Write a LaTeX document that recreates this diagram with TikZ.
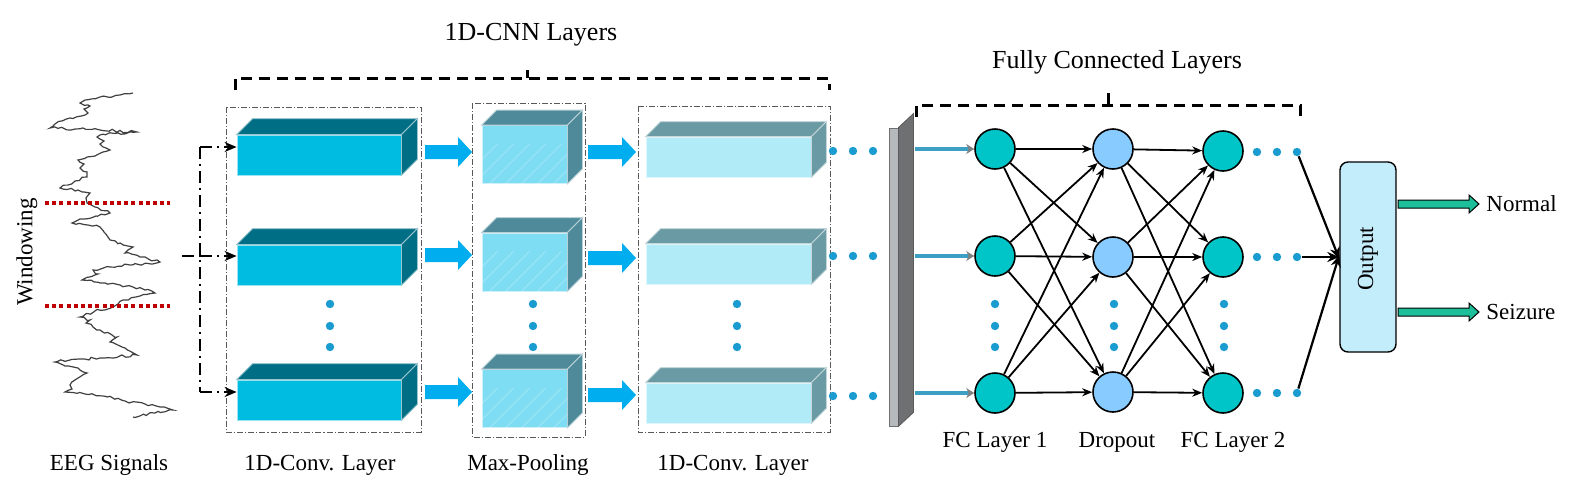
\documentclass[tikz,border=0pt]{standalone}
\usepackage{fontspec}
\setmainfont{Liberation Serif}
\usetikzlibrary{arrows.meta,decorations.pathmorphing}
\definecolor{convfront}{HTML}{00BCE0}
\definecolor{convdark}{HTML}{006F85}
\definecolor{poolfront}{HTML}{7FDDF3}
\definecolor{pooldark}{HTML}{4E8A99}
\definecolor{conv2front}{HTML}{B0EBF7}
\definecolor{conv2dark}{HTML}{6A9AA3}
\definecolor{arrowblue}{HTML}{00AEEF}
\definecolor{dotblue}{HTML}{1A9CD0}
\definecolor{fcteal}{HTML}{00C5C8}
\definecolor{droplight}{HTML}{88CCFF}
\definecolor{outbox}{HTML}{C4EDFC}
\definecolor{greenarrow}{HTML}{1DBE9A}
\definecolor{barlight}{HTML}{B5B9BC}
\definecolor{bardark}{HTML}{6E7072}
\definecolor{linkblue}{HTML}{3E9FC4}
\definecolor{redwin}{HTML}{C00000}
\newcommand\cubebox[6]{%
  \node[#4] (#1) at (#2,#3) {};
  \filldraw[fill=#5,draw=white!60!#5,line width=0.4pt] (#1.north west) -- ([shift={(#6,-#6)}]#1.north west) -- ([shift={(#6,-#6)}]#1.north east) -- (#1.north east) -- cycle;
  \filldraw[fill=#5,draw=white!60!#5,line width=0.4pt] (#1.north east) -- ([shift={(#6,-#6)}]#1.north east) -- ([shift={(#6,-#6)}]#1.south east) -- (#1.south east) -- cycle;
}
\newcommand\poolstripes[1]{%
  \begin{scope}
    \clip (#1.south west) rectangle (#1.north east);
    \foreach \s in {-60,-52,...,100}{\draw[white,opacity=0.18,line width=0.6pt] ([xshift=\s pt]#1.south west) -- ++(40,-40);}
  \end{scope}
}
\newcommand\blockarrow[3]{%
  \fill[arrowblue] (#1,#3-7) -- (#2-14,#3-7) -- (#2-14,#3-15) -- (#2,#3) -- (#2-14,#3+15) -- (#2-14,#3+7) -- (#1,#3+7) -- cycle;
}
\newcommand\greenarrow[3]{%
  \filldraw[fill=greenarrow,draw=black,line width=0.5pt] (#1,#3-4) -- (#2-10,#3-4) -- (#2-10,#3-9) -- (#2,#3) -- (#2-10,#3+9) -- (#2-10,#3+4) -- (#1,#3+4) -- cycle;
}
\begin{document}
\begin{tikzpicture}[x=0.5pt,y=-0.5pt,
  conv/.style={rectangle,inner sep=0,fill=convfront,draw=white!60!convfront,line width=0.4pt,minimum width=82pt,minimum height=20pt},
  pool/.style={rectangle,inner sep=0,fill=poolfront,draw=white!60!poolfront,line width=0.4pt,minimum width=42.5pt,minimum height=29pt},
  convb/.style={rectangle,inner sep=0,fill=conv2front,draw=white!60!conv2front,line width=0.4pt,minimum width=82.5pt,minimum height=20pt},
  frame/.style={draw=black!65,line width=0.5pt,dash pattern=on 3pt off 1pt on 0.6pt off 1pt},
  bracket/.style={draw=black,line width=1.5pt,dash pattern=on 5.5pt off 3.5pt},
  dd/.style={draw=black,line width=1.2pt,dash pattern=on 6pt off 2.5pt on 1pt off 2.5pt},
  dot/.style={circle,fill=dotblue,inner sep=0,minimum size=4.2pt},
  fc/.style={circle,draw=black,line width=0.8pt,fill=fcteal,minimum size=20pt,inner sep=0},
  drop/.style={circle,draw=black,line width=0.8pt,fill=droplight,minimum size=20pt,inner sep=0},
  edge/.style={draw=black,line width=0.9pt,-{Stealth[length=5pt,width=4pt]}},
  link/.style={draw=linkblue,line width=1.8pt,-{Stealth[length=4pt,width=5pt,color=gray]}},
  outarrow/.style={draw=black,line width=1.1pt,-{Stealth[length=6pt,width=5pt]}},
  lbl/.style={font=\fontsize{11.5}{13}\selectfont,inner sep=0},
  title/.style={font=\fontsize{13}{15}\selectfont,inner sep=0}]
\useasboundingbox (0,0) rectangle (1581,493);

% EEG signal
\pgfmathsetseed{7}
\draw[black!75,line width=0.6pt,decorate,decoration={random steps,segment length=2pt,amplitude=0.7pt}] plot coordinates {(133,93) (120,95) (100,97) (85,100) (80,103) (90,106) (84,109) (88,113) (70,118) (55,124) (50,128) (75,129) (100,130) (137,132) (118,133) (100,135) (97,137) (104,141) (100,144) (110,150) (103,152) (95,156) (78,160) (84,164) (80,168) (87,172) (87,177) (75,181) (60,188) (78,190) (90,193) (86,198) (87,203) (95,207) (110,213) (96,216) (80,219) (72,223) (88,225) (100,227) (104,232) (110,240) (120,243) (133,247) (128,250) (125,253) (140,257) (160,262) (130,265) (110,267) (93,270) (98,274) (82,280) (100,283) (120,285) (133,287) (145,290) (155,293) (140,296) (123,300) (118,304) (113,307) (95,311) (80,317) (90,320) (86,323) (93,327) (100,330) (117,337) (110,342) (125,348) (137,355) (100,358) (70,360) (55,362) (65,366) (80,370) (87,373) (78,378) (70,385) (72,389) (65,392) (85,394) (107,397) (125,401) (145,404) (160,407) (173,410) (155,413) (133,417)};
\draw[redwin,line width=1.6pt,dash pattern=on 2pt off 1.6pt] (45,203) -- (170,203);
\draw[redwin,line width=1.6pt,dash pattern=on 2pt off 1.6pt] (45,306) -- (170,306);
\node[lbl,rotate=90] (win) at (27,252) {Windowing};
\node[lbl] (eeg) at (109,465) {EEG Signals};

% frames
\draw[frame] (226,107) rectangle (421,432);
\draw[frame] (472,103) rectangle (585,437);
\draw[frame] (638,106) rectangle (830,432);

% cubes
\cubebox{c11}{319}{155}{conv}{convdark}{16}
\cubebox{c12}{319}{265}{conv}{convdark}{16}
\cubebox{c13}{319}{400}{conv}{convdark}{16}
\cubebox{p1}{524.5}{154.5}{pool}{pooldark}{15}
\cubebox{p2}{524.5}{262}{pool}{pooldark}{15}
\cubebox{p3}{524.5}{398.5}{pool}{pooldark}{15}
\poolstripes{p1}
\poolstripes{p2}
\poolstripes{p3}
\cubebox{k1}{728.5}{157}{convb}{conv2dark}{15}
\cubebox{k2}{728.5}{264}{convb}{conv2dark}{15}
\cubebox{k3}{728.5}{403}{convb}{conv2dark}{15}

% vertical dots
\foreach \x in {330,533,737,995,1114,1224}{
  \foreach \y in {304,326,347}{\node[dot] at (\x,\y) {};}}

% block arrows
\blockarrow{425}{472}{152}
\blockarrow{425}{472}{255}
\blockarrow{425}{472}{392}
\blockarrow{588}{636}{152}
\blockarrow{588}{636}{258}
\blockarrow{588}{636}{395}

% dash-dot input connectors
\coordinate (in0) at (182,256);
\coordinate (s1) at (200,147);
\coordinate (s2) at (200,256);
\coordinate (s3) at (200,392);
\draw[dd] (in0) -- (s2);
\draw[dd] (s1) -- (s3);
\draw[dd,-{Stealth[length=6pt,width=5pt]}] (s1) -- ([yshift=4pt]c11.west);
\draw[dd,-{Stealth[length=6pt,width=5pt]}] (s2) -- ([yshift=4.5pt]c12.west);
\draw[dd,-{Stealth[length=6pt,width=5pt]}] (s3) -- ([yshift=4pt]c13.west);

% trailing dots after conv2
\foreach \y [count=\i] in {151,256,396}{
  \node[dot] (ka\i) at (833,\y) {};
  \node[dot] (kb\i) at (853,\y) {};
  \node[dot] (kc\i) at (873,\y) {};}

% flatten bar
\node[rectangle,inner sep=0,minimum width=4.5pt,minimum height=149pt,fill=barlight,draw=bardark,line width=0.4pt] (bar) at (893.5,277) {};
\filldraw[fill=bardark,draw=bardark!80!black,line width=0.4pt] (bar.north east) -- ([shift={(15,-14)}]bar.north east) -- ([shift={(15,-14)}]bar.south east) -- (bar.south east) -- cycle;

% FC network
\node[fc] (f1) at (995,149) {};
\node[fc] (f2) at (995,256) {};
\node[fc] (f3) at (995,393) {};
\node[drop] (d1) at (1113,149) {};
\node[drop] (d2) at (1113,257) {};
\node[drop] (d3) at (1113,392) {};
\node[fc] (g1) at (1223,151) {};
\node[fc] (g2) at (1223,257) {};
\node[fc] (g3) at (1223,393) {};
\foreach \a in {1,2,3}{\foreach \b in {1,2,3}{
  \draw[edge] (f\a) -- (d\b);
  \draw[edge] (d\a) -- (g\b);}}
\foreach \i in {1,2,3}{\draw[link] ([xshift=8.5pt]bar.east |- f\i) -- (f\i);}

% trailing dots after FC2
\foreach \y [count=\i] in {152,257,393}{
  \node[dot] (ta\i) at (1257,\y) {};
  \node[dot] (tb\i) at (1277,\y) {};
  \node[dot] (tc\i) at (1297,\y) {};}

% output
\node[rectangle,rounded corners=4pt,draw=black,line width=0.7pt,fill=outbox,minimum width=28pt,minimum height=95pt,inner sep=0] (out) at (1368,257) {};
\node[lbl,rotate=90] (outtxt) at (1368,259) {Output};
\draw[outarrow] (tc1) -- ([yshift=-1pt]out.west);
\draw[outarrow] (tc2) -- (out.west);
\draw[outarrow] (tc3) -- ([yshift=1pt]out.west);
\greenarrow{1398}{1479}{204}
\greenarrow{1398}{1479}{312}
\node[lbl,anchor=west] (normal) at (1486,204) {Normal};
\node[lbl,anchor=west] (seizure) at (1486,312) {Seizure};

% brackets
\draw[bracket] (235,90) -- (235,78) -- (829,78) -- (829,90);
\draw[bracket,solid] (527,78) -- (527,70);
\draw[bracket] (916,117) -- (916,105) -- (1300,105) -- (1300,117);
\draw[bracket,solid] (1108,105) -- (1108,93);
\node[title] (cnn) at (531,35) {1D-CNN Layers};
\node[title] (fcl) at (1117,62) {Fully Connected Layers};

% bottom labels
\node[lbl] (l1) at (320,465) {1D-Conv. Layer};
\node[lbl] (l2) at (528,465) {Max-Pooling};
\node[lbl] (l3) at (733,465) {1D-Conv. Layer};
\node[lbl] (l4) at (995,442) {FC Layer 1};
\node[lbl] (l5) at (1117,442) {Dropout};
\node[lbl] (l6) at (1233,442) {FC Layer 2};
\end{tikzpicture}
\end{document}
